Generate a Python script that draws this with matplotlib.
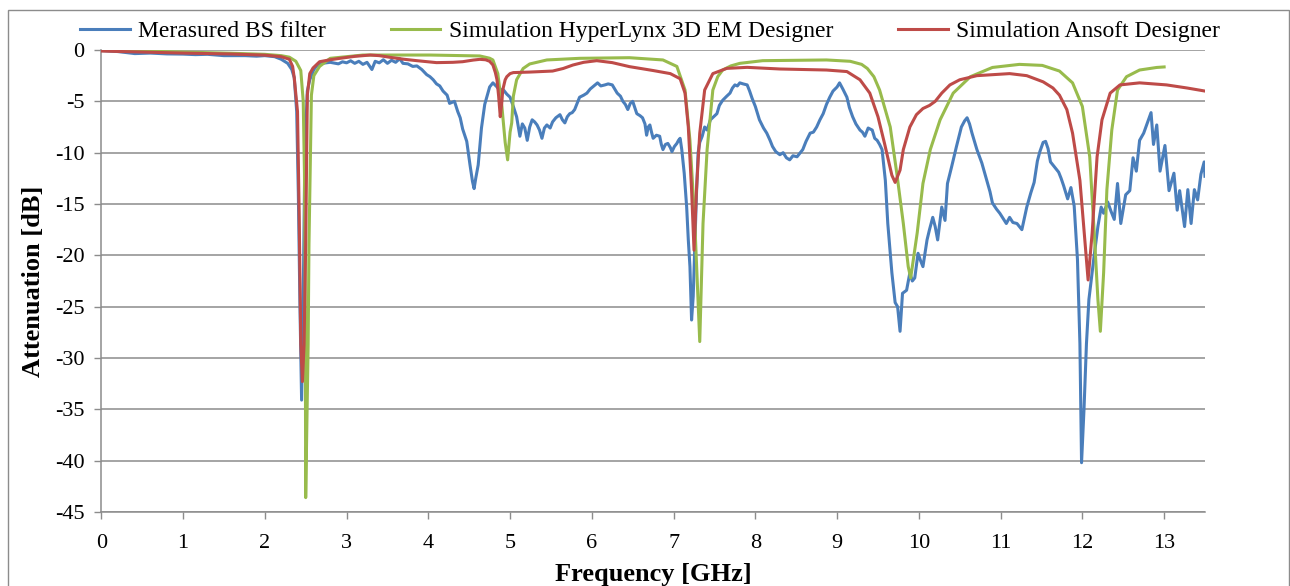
import matplotlib
matplotlib.use('Agg')
import matplotlib.pyplot as plt
from matplotlib.patches import Rectangle

# measured band-stop filter
meas_f = [0.00, 0.20, 0.41, 0.60, 0.80, 1.00, 1.15, 1.30, 1.50, 1.76, 1.90, 2.00, 2.12, 2.20,
          2.24, 2.28, 2.33, 2.36, 2.39, 2.41, 2.43, 2.45, 2.47, 2.49, 2.52, 2.55, 2.60, 2.64,
          2.70, 2.80, 2.90, 2.95, 3.00, 3.05, 3.10, 3.15, 3.20, 3.25, 3.31, 3.35, 3.40, 3.45,
          3.50, 3.55, 3.60, 3.65, 3.69, 3.75, 3.81, 3.86, 3.92, 3.98, 4.02, 4.06, 4.10, 4.14,
          4.18, 4.23, 4.26, 4.32, 4.36, 4.39, 4.42, 4.47, 4.51, 4.54, 4.56, 4.58, 4.61, 4.65,
          4.69, 4.75, 4.79, 4.84, 4.88, 4.91, 4.96, 5.00, 5.04, 5.08, 5.12, 5.15, 5.18, 5.21,
          5.24, 5.27, 5.30, 5.33, 5.36, 5.39, 5.42, 5.45, 5.49, 5.52, 5.56, 5.61, 5.64, 5.67,
          5.70, 5.73, 5.76, 5.79, 5.82, 5.85, 5.90, 5.94, 5.98, 6.01, 6.04, 6.07, 6.11, 6.16,
          6.20, 6.25, 6.28, 6.31, 6.35, 6.38, 6.41, 6.44, 6.47, 6.50, 6.53, 6.55, 6.59, 6.62,
          6.65, 6.67, 6.69, 6.71, 6.73, 6.75, 6.79, 6.83, 6.85, 6.87, 6.90, 6.93, 6.96, 6.98,
          7.01, 7.04, 7.06, 7.08, 7.10, 7.13, 7.16, 7.18, 7.20, 7.22, 7.24, 7.26, 7.28, 7.30,
          7.32, 7.35, 7.38, 7.41, 7.45, 7.49, 7.53, 7.56, 7.60, 7.65, 7.69, 7.72, 7.75, 7.78,
          7.81, 7.85, 7.90, 7.93, 7.96, 8.00, 8.05, 8.10, 8.14, 8.18, 8.21, 8.25, 8.30, 8.34,
          8.38, 8.42, 8.46, 8.51, 8.55, 8.58, 8.62, 8.67, 8.71, 8.75, 8.79, 8.83, 8.87, 8.91,
          8.95, 9.00, 9.03, 9.07, 9.12, 9.15, 9.19, 9.23, 9.28, 9.31, 9.34, 9.38, 9.43, 9.46,
          9.49, 9.52, 9.55, 9.59, 9.62, 9.67, 9.71, 9.74, 9.77, 9.80, 9.85, 9.89, 9.92, 9.95,
          9.99, 10.02, 10.05, 10.10, 10.13, 10.17, 10.20, 10.23, 10.28, 10.32, 10.35, 10.40,
          10.46, 10.52, 10.56, 10.59, 10.62, 10.65, 10.71, 10.77, 10.83, 10.87, 10.90, 10.95,
          10.99, 11.03, 11.07, 11.11, 11.15, 11.20, 11.26, 11.32, 11.37, 11.41, 11.45, 11.48,
          11.52, 11.55, 11.58, 11.61, 11.66, 11.71, 11.74, 11.77, 11.82, 11.86, 11.90, 11.94,
          11.97, 11.99, 12.02, 12.05, 12.08, 12.14, 12.19, 12.23, 12.26, 12.31, 12.35, 12.39,
          12.43, 12.47, 12.53, 12.58, 12.62, 12.66, 12.70, 12.75, 12.79, 12.84, 12.87, 12.91,
          12.95, 13.01, 13.06, 13.12, 13.16, 13.19, 13.25, 13.29, 13.33, 13.37, 13.41, 13.45,
          13.49, 13.50]
meas_db = [-0.05, -0.15, -0.35, -0.30, -0.38, -0.40, -0.45, -0.42, -0.55, -0.55, -0.60, -0.55, -0.65, -0.9,
           -1.1, -1.3, -1.9, -2.7, -6.0, -14.0, -25.0, -34.1, -24.0, -10.0, -4.0, -2.9, -1.9, -1.5,
           -1.3, -1.2, -1.35, -1.15, -1.25, -1.05, -1.3, -1.1, -1.4, -1.2, -1.9, -1.1, -1.25, -0.95,
           -1.3, -1.0, -1.2, -0.85, -1.3, -1.35, -1.6, -1.55, -1.9, -2.4, -2.6, -2.9, -3.3, -3.5,
           -4.0, -4.4, -5.2, -5.0, -6.0, -6.6, -7.7, -8.9, -11.2, -12.8, -13.5, -12.5, -11.2, -7.6,
           -5.3, -3.6, -3.2, -3.6, -4.0, -3.8, -4.3, -4.6, -5.5, -6.5, -8.4, -7.2, -7.6, -8.8,
           -7.5, -6.8, -7.0, -7.3, -7.8, -8.6, -7.6, -7.3, -7.6, -7.0, -6.6, -6.3, -6.8, -7.1,
           -6.5, -6.2, -6.1, -5.8, -5.2, -4.6, -4.4, -4.2, -3.8, -3.6, -3.4, -3.2, -3.5, -3.4,
           -3.3, -3.4, -3.8, -4.2, -4.5, -5.0, -5.3, -5.8, -5.2, -5.0, -5.7, -6.2, -6.4, -6.6,
           -7.2, -8.3, -7.5, -7.3, -8.0, -8.6, -8.3, -8.4, -9.2, -9.7, -9.2, -9.1, -9.5, -9.9,
           -9.4, -9.1, -8.8, -8.6, -9.7, -12.0, -15.3, -18.5, -21.1, -26.3, -24.0, -19.0, -14.0, -10.0,
           -9.0, -8.4, -7.5, -7.8, -6.8, -6.5, -6.2, -5.4, -4.9, -4.5, -4.2, -3.7, -3.4, -3.5,
           -3.2, -3.3, -3.4, -4.0, -4.7, -5.5, -6.8, -7.6, -8.1, -8.8, -9.4, -9.9, -10.2, -10.0,
           -10.5, -10.7, -10.3, -10.4, -10.0, -9.7, -8.9, -8.1, -8.0, -7.5, -6.8, -6.2, -5.3, -4.6,
           -4.0, -3.6, -3.2, -3.8, -4.6, -5.6, -6.5, -7.2, -7.8, -8.0, -8.4, -7.6, -7.8, -8.6,
           -8.8, -9.2, -9.7, -12.7, -16.9, -21.7, -24.6, -25.0, -27.4, -23.7, -23.4, -21.7, -22.5, -22.2,
           -19.8, -20.5, -21.1, -18.5, -17.5, -16.3, -17.2, -18.5, -15.3, -16.6, -13.0, -11.4,
           -9.4, -7.5, -6.9, -6.6, -7.2, -8.1, -9.7, -11.0, -12.7, -13.8, -14.9, -15.5,
           -15.9, -16.4, -16.9, -16.3, -16.8, -16.9, -17.5, -15.3, -13.9, -12.9, -10.8, -9.9,
           -9.0, -8.9, -9.6, -10.9, -11.4, -11.9, -12.5, -13.2, -14.5, -13.4, -15.2, -20.4,
           -28.6, -40.2, -35.0, -28.6, -24.3, -20.3, -17.2, -15.3, -15.9, -14.8, -15.7, -16.5,
           -13.0, -16.9, -14.1, -13.7, -10.5, -11.8, -8.8, -8.1, -7.2, -6.1, -9.2, -7.3,
           -11.8, -9.3, -13.7, -12.0, -15.6, -13.7, -17.2, -13.6, -16.9, -13.6, -14.6, -12.1,
           -10.9, -12.3]

# HyperLynx 3D EM simulation
hl_f = [0.00, 0.50, 1.00, 1.60, 2.00, 2.20, 2.30, 2.38, 2.44, 2.47, 2.485, 2.495, 2.50, 2.53,
        2.54, 2.56, 2.57, 2.60, 2.67, 2.80, 3.20, 4.02, 4.63, 4.75, 4.79, 4.85, 4.90, 4.94,
        4.97, 5.00, 5.02, 5.04, 5.08, 5.16, 5.24, 5.45, 5.85, 6.46, 6.87, 7.04, 7.14, 7.20, 7.26,
        7.32, 7.36, 7.41, 7.48, 7.54, 7.60, 7.70, 7.81, 8.09, 8.87, 9.16, 9.30, 9.37, 9.45, 9.52,
        9.65, 9.73, 9.81, 9.87, 9.90, 9.98, 10.05, 10.14, 10.26, 10.42, 10.63, 10.90, 11.23,
        11.51, 11.72, 11.88, 12.00, 12.09, 12.15, 12.19, 12.22, 12.26, 12.30, 12.36, 12.43,
        12.54, 12.70, 12.91, 13.00]
hl_db = [0.0, -0.10, -0.20, -0.32, -0.42, -0.55, -0.70, -1.1, -2.0, -5.0, -12.0, -25.0, -43.6, -28.7,
         -19.0, -9.3, -4.4, -2.5, -1.6, -0.81, -0.49, -0.49, -0.58, -0.8, -0.97, -2.3, -5.5, -9.0,
         -10.7, -8.0, -7.1, -4.5, -2.9, -1.8, -1.36, -0.97, -0.81, -0.75, -0.97, -1.6, -3.9, -8.8, -16.9,
         -28.4, -16.9, -9.7, -3.9, -2.6, -1.95, -1.55, -1.3, -1.04, -0.97, -1.1, -1.4, -1.8, -2.6, -3.9,
         -7.5, -12.0, -16.9, -21.1, -22.2, -17.8, -13.0, -9.7, -6.8, -4.2, -2.6, -1.7, -1.4,
         -1.5, -2.05, -3.2, -5.5, -10.4, -18.5, -24.3, -27.4, -21.7, -13.6, -7.8, -3.9,
         -2.6, -1.95, -1.7, -1.65]

# Ansoft Designer simulation
an_f = [0.00, 0.50, 1.00, 1.58, 2.00, 2.20, 2.30, 2.34, 2.36, 2.40, 2.42, 2.44, 2.46, 2.48,
        2.50, 2.52, 2.55, 2.59, 2.67, 2.80, 2.92, 3.10, 3.29, 3.40, 3.53, 3.70, 3.86, 4.10,
        4.30, 4.42, 4.55, 4.63, 4.70, 4.75, 4.79, 4.82, 4.84, 4.86, 4.88, 4.90, 4.91, 4.94,
        4.96, 5.00, 5.04, 5.24, 5.52, 5.65, 5.77, 5.90, 6.06, 6.25, 6.46, 6.75, 6.96, 7.08,
        7.14, 7.18, 7.22, 7.25, 7.28, 7.32, 7.38, 7.48, 7.65, 7.90, 8.30, 8.87, 9.12, 9.28,
        9.40, 9.50, 9.58, 9.67, 9.71, 9.77, 9.81, 9.89, 9.97, 10.05, 10.13, 10.20, 10.28, 10.38,
        10.50, 10.71, 10.91, 11.11, 11.32, 11.52, 11.64, 11.72, 11.81, 11.88, 11.97, 12.03, 12.07,
        12.12, 12.18, 12.24, 12.34, 12.46, 12.70, 13.03, 13.28, 13.50]
an_db = [-0.10, -0.20, -0.30, -0.39, -0.50, -0.65, -0.90, -1.6, -2.7, -6.0, -15.8, -28.7, -32.3, -28.7,
         -19.0, -4.4, -2.3, -1.75, -1.14, -0.95, -0.81, -0.62, -0.49, -0.55, -0.71, -0.90, -1.04, -1.23,
         -1.20, -1.14, -0.98, -0.91, -0.95, -1.1, -1.46, -2.2, -2.9, -4.5, -6.5, -5.0, -3.9, -2.9,
         -2.6, -2.3, -2.2, -2.15, -2.05, -1.8, -1.46, -1.2, -1.04, -1.23, -1.62, -2.0, -2.3, -2.8,
         -4.2, -7.5, -13.6, -19.5, -13.6, -8.1, -3.9, -2.3, -1.79, -1.69, -1.85, -1.95, -2.1, -2.9,
         -4.2, -6.5, -9.1, -12.2, -12.9, -11.7, -9.7, -7.5, -6.3, -5.7, -5.4, -5.0, -4.2, -3.4,
         -2.9, -2.5, -2.4, -2.3, -2.5, -3.1, -3.7, -4.4, -5.8, -8.1, -12.7, -18.5, -22.4,
         -17.8, -10.4, -6.8, -4.2, -3.4, -3.2, -3.4, -3.7, -4.0]

x_ticks = list(range(0, 14))
y_ticks = list(range(-45, 1, 5))


def main():
    plt.rcParams['font.family'] = ['Liberation Serif', 'DejaVu Serif']
    plt.rcParams['axes.unicode_minus'] = False

    fig = plt.figure(figsize=(12.9, 5.86), dpi=100)
    W, H = 1290, 586
    ax = fig.add_axes([101.3 / W, (H - 512) / H, (1205 - 101.3) / W, (512 - 50) / H])

    # outer chart frame
    fig.patches.append(Rectangle((8 / W, -0.02), (1289 - 8) / W, 1.02 - 10 / H,
                                 transform=fig.transFigure, fill=False,
                                 edgecolor='#8c8c8c', lw=1.0))

    ax.grid(axis='y', color='#8c8c8c', lw=1.1, zorder=1)
    ax.plot(meas_f, meas_db, c='#4a7ebb', lw=2.2, label='Merasured BS filter', zorder=3)
    ax.plot(hl_f, hl_db, c='#98bb4c', lw=2.2, label='Simulation HyperLynx 3D EM Designer', zorder=4)
    ax.plot(an_f, an_db, c='#be4b48', lw=2.2, label='Simulation Ansoft Designer', zorder=5)

    ax.set_xlim(0, 13.5)
    ax.set_ylim(-45, 0)
    ax.set_xticks(x_ticks)
    ax.set_yticks(y_ticks)
    ax.tick_params(labelsize=16, length=5, width=1, color='#8c8c8c', pad=7)
    ax.tick_params(axis='x', pad=11)
    for s in ['top', 'right']:
        ax.spines[s].set_visible(False)
    for s in ['left', 'bottom']:
        ax.spines[s].set_color('#8c8c8c')
        ax.spines[s].set_linewidth(1.1)

    ax.set_xlabel('Frequency [GHz]', fontsize=19, fontweight='bold', labelpad=7)
    ax.set_ylabel('Attenuation [dB]', fontsize=19, fontweight='bold', labelpad=7)

    fig.legend(loc='center', bbox_to_anchor=(650 / W, 1 - 31 / H), ncol=3, frameon=False,
               fontsize=17, handlelength=2.1, handletextpad=0.35, columnspacing=2.75,
               borderaxespad=0)

    fig.savefig('out.png', dpi=100)


if __name__ == '__main__':
    main()
